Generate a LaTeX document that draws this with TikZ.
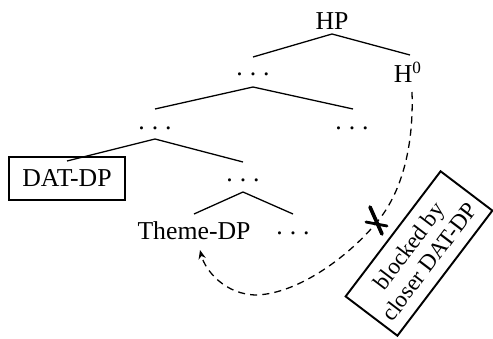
\documentclass[tikz,border=0pt]{standalone}
\usepackage{fontspec}
\setmainfont{Liberation Serif}
\usetikzlibrary{arrows.meta,calc}
\newcommand\tdots{.\hspace{0.27em}.\hspace{0.27em}.}
\begin{document}
\begin{tikzpicture}[x=0.466pt,y=-0.466pt,
  lbl/.style={inner sep=0pt,font=\fontsize{12}{14}\selectfont},
  branch/.style={line width=0.6pt},
  framed/.style={draw,line width=0.9pt,inner sep=0pt},
  move/.style={dashed,line width=0.6pt,dash pattern=on 3.3pt off 2.4pt},
  cross/.style={line width=1.7pt,line cap=round}]
\useasboundingbox (0,0) rectangle (493,338);
% nodes
\node[lbl] (hp) at (332,21) {HP};
\node[lbl] (d1) at (253,74) {\tdots};
\node[lbl] (h0) at (408,72) {H\textsuperscript{0}};
\node[lbl] (d2) at (155,128) {\tdots};
\node[lbl] (d3) at (352,128) {\tdots};
\node[lbl,framed,minimum width=54pt,minimum height=20pt] (dat) at (67,178.5) {DAT-DP};
\node[lbl] (d4) at (243,180) {\tdots};
\node[lbl] (theme) at (194,231) {Theme-DP};
\node[lbl] (d5) at (293,233) {\tdots};
\node[framed,rotate=52.8,minimum width=73.2pt,minimum height=30.3pt,align=center,
  font=\fontsize{10.8}{12}\selectfont] (blk) at (419,253.5) {blocked by\\closer DAT-DP};
% tree coordinates
\coordinate (hpA) at (332,34);
\coordinate (hpL) at (253,57);
\coordinate (hpR) at (410,55);
\coordinate (d1A) at (253,87);
\coordinate (d1L) at (155,109);
\coordinate (d1R) at (353,109);
\coordinate (d2A) at (155,139);
\coordinate (d2L) at (67,161);
\coordinate (d2R) at (243,162);
\coordinate (d4A) at (243,192);
\coordinate (d4L) at (194,214);
\coordinate (d4R) at (293,214);
\draw[branch] (hpL) -- (hpA) -- (hpR);
\draw[branch] (d1L) -- (d1A) -- (d1R);
\draw[branch] (d2L) -- (d2A) -- (d2R);
\draw[branch] (d4L) -- (d4A) -- (d4R);
% movement path
\coordinate (mstart) at (412,92);
\coordinate (xm) at (377,222);
\coordinate (mbot) at (257,295);
\coordinate (tip) at (200,250);
\draw[move,-{Stealth[length=4.2pt,width=3.4pt]}] (mstart)
  .. controls (414,150) and (400,195) .. (xm)
  .. controls (350,255) and (300,293) .. (mbot)
  .. controls (225,295) and (205,270) .. (tip);
% cross mark
\draw[cross] (370,207) -- (382,234);
\draw[cross,line width=1.3pt] (366,222) -- (387,226);
\end{tikzpicture}
\end{document}
